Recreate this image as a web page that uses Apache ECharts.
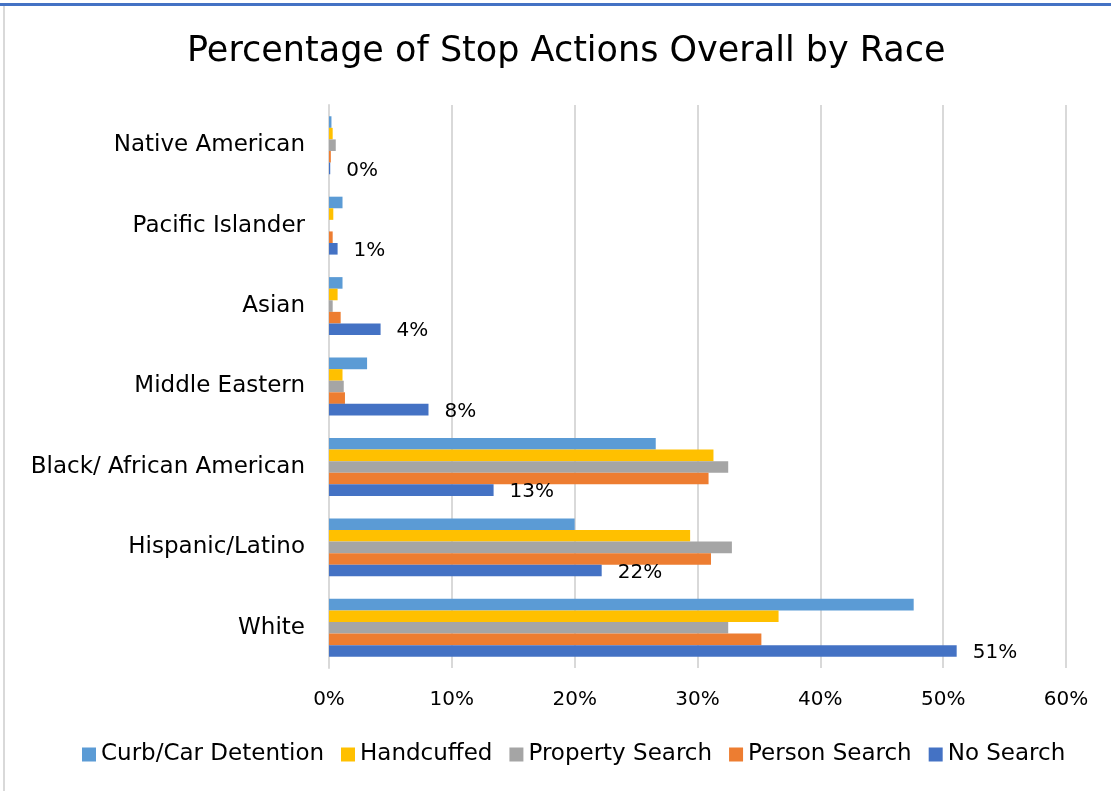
<!DOCTYPE html>
<html>
<head>
<meta charset="utf-8">
<title>Percentage of Stop Actions Overall by Race</title>
<script src="https://cdn.jsdelivr.net/npm/echarts@6/dist/echarts.min.js"></script>
<style>
    html, body { margin: 0; padding: 0; background: #fff; }
    #chart { width: 1111px; height: 791px; }
</style>
</head>
<body>
<div id="chart"></div>
<script>
    // categories, bottom -> top (like Excel)
    var races = ['White', 'Hispanic/Latino', 'Black/ African American', 'Middle Eastern', 'Asian', 'Pacific Islander', 'Native American'];

    // percent values per action, same order as races
    var curbDetention = [47.6, 20.0, 26.6, 3.1, 1.1, 1.1, 0.2];
    var handcuffed = [36.6, 29.4, 31.3, 1.1, 0.7, 0.35, 0.3];
    var propertySearch = [32.5, 32.8, 32.5, 1.2, 0.3, 0, 0.55];
    var personSearch = [35.2, 31.1, 30.9, 1.3, 0.95, 0.3, 0.15];
    var noSearch = [51.1, 22.2, 13.4, 8.1, 4.2, 0.7, 0.1];

    var xTicks = [0, 10, 20, 30, 40, 50, 60];

    var font = '"DejaVu Sans", "Noto Sans", sans-serif';

    function barSeries(name, data, color) {
        return {
            name: name,
            type: 'bar',
            data: data,
            itemStyle: { color: color },
            barGap: '0%',
            barCategoryGap: '28%'
        };
    }

    var series = [
        barSeries('Curb/Car Detention', curbDetention, '#5B9BD5'),
        barSeries('Handcuffed', handcuffed, '#FFC000'),
        barSeries('Property Search', propertySearch, '#A5A5A5'),
        barSeries('Person Search', personSearch, '#ED7D31'),
        barSeries('No Search', noSearch, '#4472C4')
    ];
    // only the No Search bars carry labels
    series[4].label = {
        show: true,
        position: 'right',
        distance: 16,
        offset: [0, 2],
        color: '#000',
        fontSize: 20,
        fontFamily: font,
        formatter: function (p) { return Math.round(p.value) + '%'; }
    };

    var option = {
        animation: false,
        title: {
            text: 'Percentage of Stop Actions Overall by Race',
            left: 182,
            top: 29,
            textStyle: { color: '#000', fontSize: 35, fontWeight: 'normal', fontFamily: font }
        },
        legend: {
            data: ['Curb/Car Detention', 'Handcuffed', 'Property Search', 'Person Search', 'No Search'],
            bottom: 20,
            left: 77,
            icon: 'rect',
            itemWidth: 14,
            itemHeight: 14,
            itemGap: 17,
            textStyle: { color: '#000', fontSize: 23, fontFamily: font }
        },
        grid: {
            left: 329,
            right: 45,
            top: 105,
            bottom: 123
        },
        xAxis: {
            type: 'value',
            min: xTicks[0],
            max: xTicks[xTicks.length - 1],
            interval: 10,
            axisLine: { show: false },
            axisTick: { show: false },
            splitLine: { lineStyle: { color: '#D9D9D9', width: 2 } },
            axisLabel: {
                margin: 22,
                color: '#000',
                fontSize: 20,
                fontFamily: font,
                formatter: '{value}%'
            }
        },
        yAxis: {
            type: 'category',
            data: races,
            axisLine: { show: true, lineStyle: { color: '#D9D9D9', width: 2 } },
            axisTick: { show: false },
            axisLabel: {
                margin: 24,
                color: '#000',
                fontSize: 23,
                fontFamily: font
            }
        },
        // spreadsheet frame bits around the chart
        graphic: [
            { type: 'rect', shape: { x: 0, y: 3, width: 1111, height: 3 }, style: { fill: '#4472C4' } },
            { type: 'rect', shape: { x: 3, y: 6, width: 2, height: 785 }, style: { fill: '#D9D9D9' } }
        ],
        series: series
    };

    var chart = echarts.init(document.getElementById('chart'));
    chart.setOption(option);
</script>
</body>
</html>
